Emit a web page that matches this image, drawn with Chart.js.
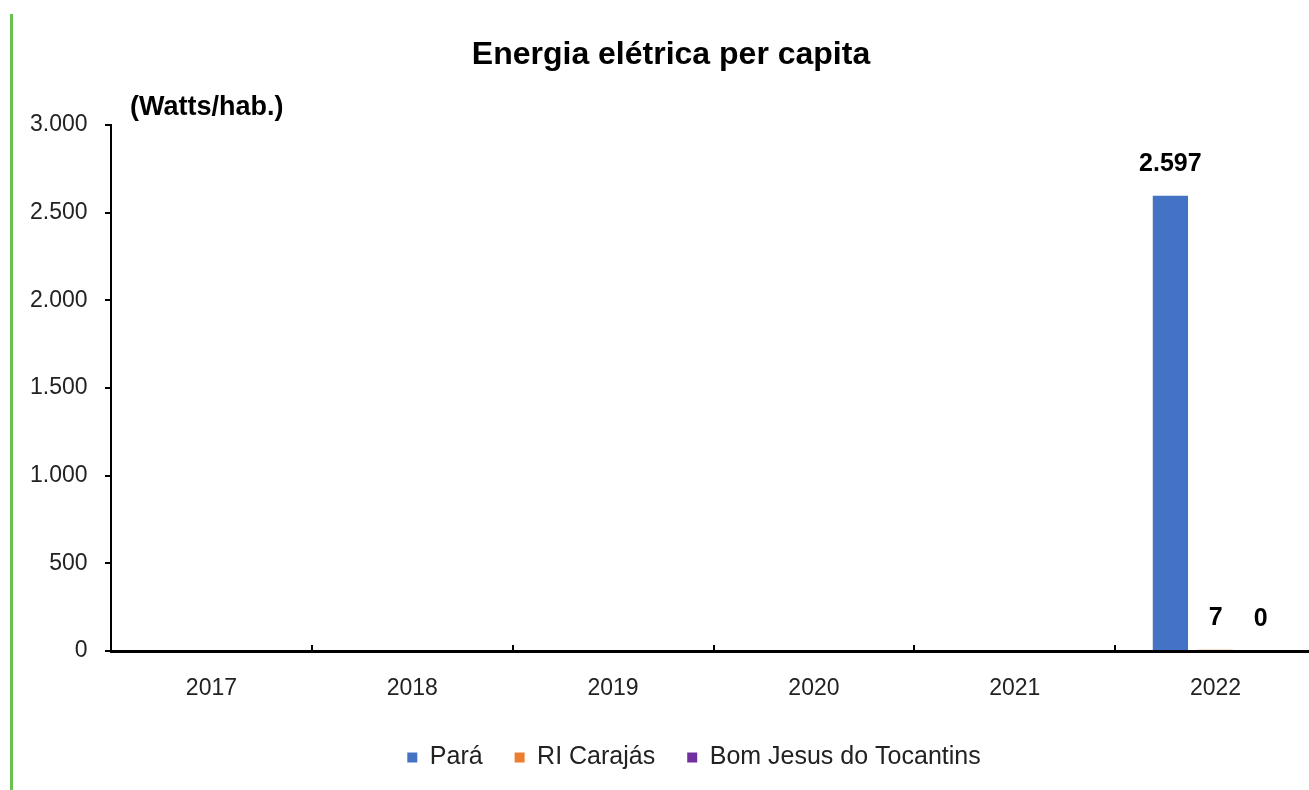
<!DOCTYPE html>
<html>
<head>
<meta charset="utf-8">
<title>Energia elétrica per capita</title>
<script src="https://cdn.jsdelivr.net/npm/chart.js@4.4.1/dist/chart.umd.min.js"></script>
<style>
  html, body { margin: 0; padding: 0; background: #fff; overflow: hidden; }
  #wrap { position: relative; width: 1316px; height: 790px; }
  #side { position: absolute; left: 10px; top: 14px; width: 3px; height: 776px; background: #66c14f; }
</style>
</head>
<body>
<div id="wrap"><canvas id="c"></canvas></div>
<div id="side"></div>
<script>
  /* dados */
  var years = ['2017', '2018', '2019', '2020', '2021', '2022'];
  var para = [null, null, null, null, null, 2597];
  var riCarajas = [null, null, null, null, null, 7];
  var bomJesus = [null, null, null, null, null, 0];
  var yTicks = [0, 500, 1000, 1500, 2000, 2500, 3000];

  var FONT = "'Liberation Sans', Arial, sans-serif";
  var INK = '#222';

  // 2597 -> "2.597"
  function fmt(v) { return String(Math.round(v)).replace(/\B(?=(\d{3})+(?!\d))/g, '.'); }

  /* título e "(Watts/hab.)" */
  var headings = {
    id: 'headings',
    afterDraw: function (chart) {
      var ctx = chart.ctx, a = chart.chartArea;
      ctx.save();
      ctx.fillStyle = '#000';
      ctx.textBaseline = 'middle';
      ctx.textAlign = 'center';
      ctx.font = 'bold 32px ' + FONT;
      ctx.fillText('Energia elétrica per capita', 671, 55);
      ctx.textAlign = 'left';
      ctx.font = 'bold 27px ' + FONT;
      ctx.fillText('(Watts/hab.)', a.left + 19, a.top - 17);
      ctx.restore();
    }
  };

  /* rótulos de valor sobre as barras */
  var valueLabels = {
    id: 'valueLabels',
    afterDatasetsDraw: function (chart) {
      var ctx = chart.ctx;
      ctx.save();
      ctx.font = 'bold 25px ' + FONT;
      ctx.fillStyle = '#000';
      ctx.textAlign = 'center';
      ctx.textBaseline = 'middle';
      chart.data.datasets.forEach(function (ds, i) {
        chart.getDatasetMeta(i).data.forEach(function (el, j) {
          var v = ds.data[j];
          if (v === null || v === undefined) return;
          ctx.fillText(fmt(v), el.x, el.y - 32);
        });
      });
      ctx.restore();
    }
  };

  /* marcas curtas para dentro nos limites das categorias */
  var xMarks = {
    id: 'xMarks',
    afterDraw: function (chart) {
      var x = chart.scales.x, ctx = chart.ctx, n = years.length;
      var w = (x.right - x.left) / n;
      ctx.save();
      ctx.strokeStyle = '#000';
      ctx.lineWidth = 2;
      for (var i = 1; i < n; i++) {
        var px = Math.round(x.left + i * w);
        ctx.beginPath();
        ctx.moveTo(px, x.top);
        ctx.lineTo(px, x.top - 6);
        ctx.stroke();
      }
      ctx.restore();
    }
  };

  new Chart(document.getElementById('c'), {
    type: 'bar',
    data: {
      labels: years,
      datasets: [
        { label: 'Pará', data: para, backgroundColor: '#4472c4' },
        { label: 'RI Carajás', data: riCarajas, backgroundColor: '#ed7d31' },
        { label: 'Bom Jesus do Tocantins', data: bomJesus, backgroundColor: '#7030a0' }
      ]
    },
    options: {
      responsive: true, maintainAspectRatio: false, animation: false,
      datasets: { bar: { categoryPercentage: 0.675, barPercentage: 0.78 } },
      layout: { padding: { top: 125, left: 72, right: 0, bottom: 10 } },
      plugins: {
        title: { display: false },
        legend: { position: 'bottom',
          labels: { boxWidth: 10, boxHeight: 10, padding: 32, color: INK, font: { family: FONT, size: 25 } } },
        tooltip: { enabled: false }
      },
      scales: {
        x: {
          offset: true,
          grid: { display: false },
          border: { display: true, color: '#000', width: 3 },
          ticks: { color: INK, padding: 16, font: { family: FONT, size: 23 } },
          afterFit: function (s) { s.height = 62; }
        },
        y: {
          min: 0, max: 3000,
          afterBuildTicks: function (s) { s.ticks = yTicks.map(function (v) { return { value: v }; }); },
          grid: { drawOnChartArea: false, drawTicks: true, tickLength: 6, color: '#000', lineWidth: 2 },
          border: { display: true, color: '#000', width: 2 },
          ticks: { mirror: true, crossAlign: 'far', padding: -81, color: INK,
            font: { family: FONT, size: 23 }, callback: function (v) { return fmt(v); } },
          afterFit: function (s) { s.width = 39; }
        }
      }
    },
    plugins: [headings, valueLabels, xMarks]
  });
</script>
</body>
</html>
